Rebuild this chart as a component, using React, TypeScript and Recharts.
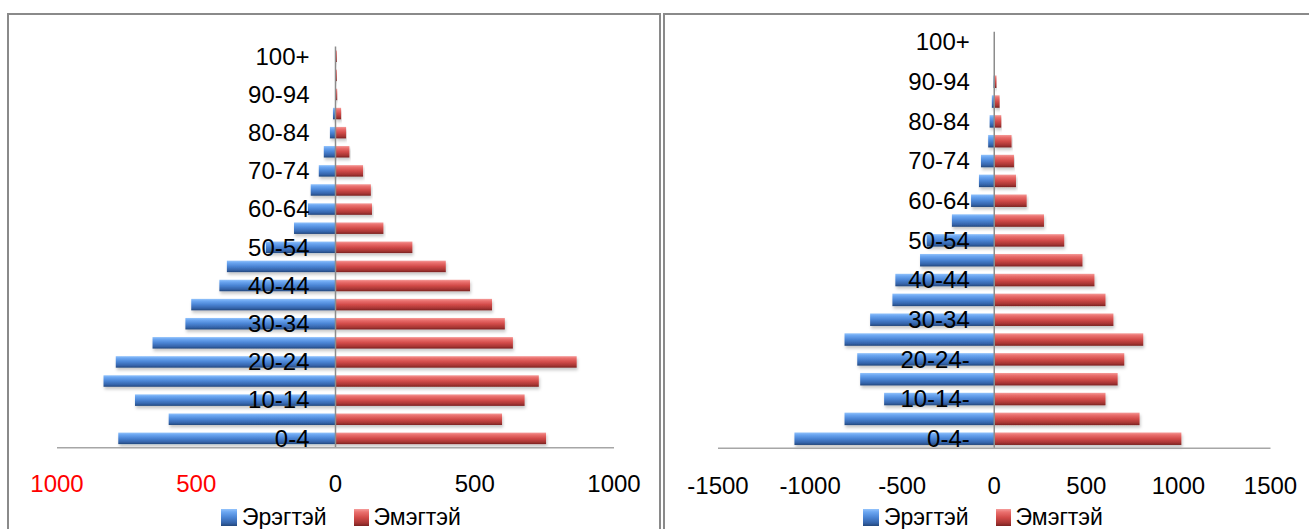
import React from 'react';
import { BarChart, Bar, XAxis, YAxis, ReferenceLine, Legend } from 'recharts';

// age groups, bottom (youngest) to top
const agesLeft = ['0-4', '5-9', '10-14', '15-19', '20-24', '25-29', '30-34', '35-39', '40-44', '45-49', '50-54', '55-59', '60-64', '65-69', '70-74', '75-79', '80-84', '85-89', '90-94', '95-99', '100+'];
const agesRight = ['0-4-', '5-9-', '10-14-', '15-19-', '20-24-', '25-29', '30-34', '35-39', '40-44', '45-49', '50-54', '55-59', '60-64', '65-69', '70-74', '75-79', '80-84', '85-89', '90-94', '95-99', '100+'];

const maleLeft = [780, 599, 720, 833, 789, 657, 539, 518, 417, 390, 250, 149, 99, 89, 60, 42, 20, 9, 1, 1, 0];
const femaleLeft = [756, 598, 679, 730, 866, 637, 608, 562, 483, 396, 276, 172, 131, 127, 99, 50, 38, 20, 6, 5, 5];

const maleRight = [1085, 813, 598, 728, 744, 813, 674, 553, 537, 403, 367, 230, 126, 83, 72, 33, 25, 13, 4, 0, 0];
const femaleRight = [1016, 789, 604, 670, 706, 809, 647, 604, 544, 479, 380, 270, 176, 118, 107, 94, 38, 29, 12, 0, 0];

const ticksLeft = [-1000, -500, 0, 500, 1000];
const ticksRight = [-1500, -1000, -500, 0, 500, 1000, 1500];

const MALE = 'Эрэгтэй';
const FEMALE = 'Эмэгтэй';

const FONT = '"Liberation Sans", Arial, sans-serif';

const buildRows = (ages: string[], male: number[], female: number[]) =>
  ages.map((age, i) => ({ age, male: -male[i], female: female[i] }));

const leftRows = buildRows(agesLeft, maleLeft, femaleLeft);
const rightRows = buildRows(agesRight, maleRight, femaleRight);

const BevelBar = (props: any) => {
  const { x, y, width, height, gradId, shadowId } = props;
  if (!width || !height) return null;
  const x0 = width < 0 ? x + width : x;
  const w = Math.abs(width);
  return <rect x={x0} y={y} width={w} height={height} fill={`url(#${gradId})`} filter={`url(#${shadowId})`} />;
};

const PyramidLegend = ({ prefix }: { prefix: string }) => (
  <div style={{ display: 'flex', alignItems: 'center', fontFamily: FONT, fontSize: 23, color: '#000', whiteSpace: 'nowrap', height: 0, overflow: 'visible' }}>
    <div style={{ display: 'flex', alignItems: 'center', marginTop: 34 }}>
      <svg width={16} height={17} style={{ marginRight: 5 }}>
        <rect width={16} height={17} fill={`url(#${prefix}-male)`} />
      </svg>
      <span>{MALE}</span>
      <svg width={15} height={17} style={{ marginLeft: 27, marginRight: 5 }}>
        <rect width={15} height={17} fill={`url(#${prefix}-female)`} />
      </svg>
      <span>{FEMALE}</span>
    </div>
  </div>
);

interface PyramidProps {
  prefix: string;
  rows: { age: string; male: number; female: number }[];
  ticks: number[];
  width: number;
  margin: { top: number; right: number; bottom: number; left: number };
  barSize: number;
  labelGap: number;
  tickDy: number;
  redNegatives: boolean;
  legendLeft: number;
}

const Y_AXIS_W = 1;

const Pyramid: React.FC<PyramidProps> = ({ prefix, rows, ticks, width, margin, barSize, labelGap, tickDy, redNegatives, legendLeft }) => {
  const min = ticks[0];
  const max = ticks[ticks.length - 1];
  const plotW = width - margin.left - margin.right - Y_AXIS_W;
  const zeroShift = (plotW * (0 - min)) / (max - min);

  const XTick = (p: any) => {
    const v = p.payload.value as number;
    const neg = v < 0;
    return (
      <text x={p.x} y={p.y + tickDy} textAnchor="middle" dominantBaseline="central" fontFamily={FONT} fontSize={24} fill={neg && redNegatives ? '#ff0000' : '#000'}>
        {redNegatives ? Math.abs(v) : v}
      </text>
    );
  };

  const YTick = (p: any) => (
    <text x={p.x + zeroShift - labelGap} y={p.y} textAnchor="end" dominantBaseline="central" fontFamily={FONT} fontSize={24} fill="#000">
      {p.payload.value}
    </text>
  );

  return (
    <BarChart width={width} height={529} data={rows} layout="vertical" stackOffset="sign" margin={margin}>
      <defs>
        <linearGradient id={`${prefix}-male`} x1="0" y1="0" x2="0" y2="1">
          <stop offset="0%" stopColor="#93c3fb" />
          <stop offset="18%" stopColor="#6ba6f1" />
          <stop offset="50%" stopColor="#4a84d4" />
          <stop offset="82%" stopColor="#3463a9" />
          <stop offset="100%" stopColor="#23477b" />
        </linearGradient>
        <linearGradient id={`${prefix}-female`} x1="0" y1="0" x2="0" y2="1">
          <stop offset="0%" stopColor="#f59c9a" />
          <stop offset="18%" stopColor="#ea706e" />
          <stop offset="50%" stopColor="#d24b49" />
          <stop offset="82%" stopColor="#a63533" />
          <stop offset="100%" stopColor="#7a2221" />
        </linearGradient>
        <filter id={`${prefix}-shadow`} x="-5%" y="-40%" width="110%" height="200%">
          <feDropShadow dx="1" dy="2.5" stdDeviation="1.5" floodColor="#000" floodOpacity="0.22" />
        </filter>
      </defs>
      <Bar dataKey="male" name={MALE} stackId="s" barSize={barSize} isAnimationActive={false}
        shape={(p: any) => <BevelBar {...p} gradId={`${prefix}-male`} shadowId={`${prefix}-shadow`} />} />
      <Bar dataKey="female" name={FEMALE} stackId="s" barSize={barSize} isAnimationActive={false}
        shape={(p: any) => <BevelBar {...p} gradId={`${prefix}-female`} shadowId={`${prefix}-shadow`} />} />
      <ReferenceLine x={0} stroke="#8c8c8c" strokeWidth={1.5} />
      <XAxis type="number" domain={[min, max]} ticks={ticks} allowDataOverflow height={40}
        axisLine={{ stroke: '#a6a6a6', strokeWidth: 1.5 }} tickLine={false} tickSize={0} tickMargin={0} tick={XTick} />
      <YAxis type="category" dataKey="age" reversed width={Y_AXIS_W} interval={1}
        axisLine={false} tickLine={false} tickSize={0} tickMargin={0} tick={YTick} />
      <Legend content={() => <PyramidLegend prefix={prefix} />}
        wrapperStyle={{ position: 'absolute', left: legendLeft, top: 500, bottom: 'auto', width: 'auto', height: 0 }} />
    </BarChart>
  );
};

const panelStyle: React.CSSProperties = {
  position: 'absolute',
  top: 13,
  height: 540,
  border: '2px solid #8a8a8a',
  boxSizing: 'border-box',
  background: '#fff',
};

export default function App() {
  return (
    <div style={{ position: 'fixed', left: 0, top: 0, width: 1309, height: 529, overflow: 'hidden', background: '#fff' }}>
      <div style={{ ...panelStyle, left: 7, width: 654 }} />
      <div style={{ ...panelStyle, left: 663, width: 670 }} />
      <div style={{ position: 'absolute', left: 0, top: 0 }}>
        <Pyramid prefix="l" rows={leftRows} ticks={ticksLeft} width={660}
          margin={{ top: 46.5, right: 46, bottom: 41.3, left: 56 }}
          barSize={11.5} labelGap={26} tickDy={35.6} redNegatives legendLeft={221} />
      </div>
      <div style={{ position: 'absolute', left: 660, top: 0 }}>
        <Pyramid prefix="r" rows={rightRows} ticks={ticksRight} width={649}
          margin={{ top: 31.8, right: 38.5, bottom: 40.7, left: 57 }}
          barSize={12.5} labelGap={24.5} tickDy={36.7} redNegatives={false} legendLeft={203} />
      </div>
    </div>
  );
}
